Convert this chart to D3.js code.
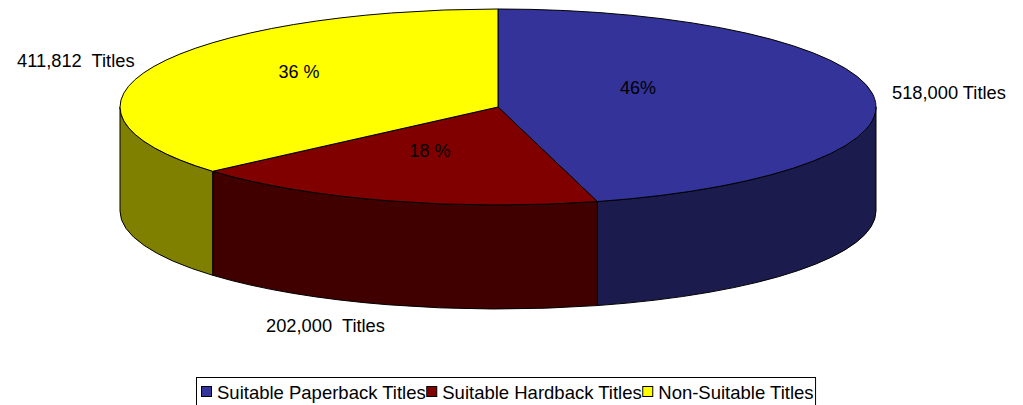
<!DOCTYPE html>
<html>
<head>
<meta charset="utf-8">
<script src="https://cdn.jsdelivr.net/npm/d3@7"></script>
<style>
  body { margin: 0; background: #fff; }
  text { font-family: "Liberation Sans", Arial, sans-serif; fill: #000; white-space: pre; }
</style>
</head>
<body>
<div id="chart"></div>
<script>
// data
let categories = ["Suitable Paperback Titles", "Suitable Hardback Titles", "Non-Suitable Titles"];
let titles = [518000, 202000, 411812];
let pctLabels = ["46%", "18 %", "36 %"];
let countLabels = ["518,000 Titles", "202,000  Titles", "411,812  Titles"];
let topColors = ["#333399", "#800000", "#ffff00"];
let sideColors = ["#1b1b4d", "#400000", "#808000"];

// layout
let width = 1023, height = 405;
let cx = 498, cy = 107, rx = 378, ry = 98, depth = 104;
// label offsets relative to the pie centre (as placed in the original)
let pctOffsets = [[140, -13], [-68, 50], [-199, -29]];
let countOffsets = [[394, -8], [-232, 225], [-481, -40]];

let svg = d3.select("#chart")
  .append("svg")
    .attr("width", width)
    .attr("height", height);

let pie = d3.pie().sort(null).value(d => d);
let arcs = pie(titles);

function pt(a, dy) {
  return [cx + rx * Math.sin(a), cy - ry * Math.cos(a) + (dy || 0)];
}

// side walls (front half only)
let sides = svg.append("g");
arcs.forEach((d, i) => {
  let s = Math.max(d.startAngle, Math.PI / 2),
      e = Math.min(d.endAngle, 3 * Math.PI / 2);
  if (s >= e) return;
  let p0 = pt(s), p1 = pt(e), p2 = pt(e, depth), p3 = pt(s, depth);
  let path = "M" + p0 + " A" + rx + "," + ry + " 0 0 1 " + p1 +
    " L" + p2 + " A" + rx + "," + ry + " 0 0 0 " + p3 + " Z";
  sides.append("path")
    .attr("d", path)
    .attr("fill", sideColors[i])
    .attr("stroke", "#000")
    .attr("stroke-width", 1)
    .attr("stroke-linejoin", "round");
});

// top face
let arc = d3.arc().innerRadius(0).outerRadius(rx);
svg.append("g")
    .attr("transform", "translate(" + cx + "," + cy + ") scale(1," + (ry / rx) + ")")
  .selectAll("path")
  .data(arcs)
  .enter()
  .append("path")
    .attr("d", arc)
    .attr("fill", (d, i) => topColors[i])
    .attr("stroke", "#000")
    .attr("stroke-width", 1)
    .attr("vector-effect", "non-scaling-stroke")
    .attr("stroke-linejoin", "round");

// percentage labels
svg.append("g").selectAll("text")
  .data(pctLabels)
  .enter()
  .append("text")
    .attr("x", (d, i) => cx + pctOffsets[i][0])
    .attr("y", (d, i) => cy + pctOffsets[i][1])
    .attr("text-anchor", "middle")
    .style("font-size", "18px")
    .text(d => d);

// count labels
svg.append("g").selectAll("text")
  .data(countLabels)
  .enter()
  .append("text")
    .attr("x", (d, i) => cx + countOffsets[i][0])
    .attr("y", (d, i) => cy + countOffsets[i][1])
    .style("font-size", "18.3px")
    .text(d => d);

// legend
let legend = svg.append("g");
let box = legend.append("rect")
  .attr("x", 196.5)
  .attr("y", 377.5)
  .attr("height", 40)
  .attr("fill", "#fff")
  .attr("stroke", "#000")
  .attr("stroke-width", 1);

let lx = 201.5;
categories.forEach((c, i) => {
  legend.append("rect")
    .attr("x", lx)
    .attr("y", 386.5)
    .attr("width", 10)
    .attr("height", 10)
    .attr("fill", topColors[i])
    .attr("stroke", "#000")
    .attr("stroke-width", 1);
  let t = legend.append("text")
    .attr("x", lx + 15.5)
    .attr("y", 399)
    .style("font-size", "18.5px")
    .text(c);
  lx = lx + 15.5 + t.node().getComputedTextLength() + 1;
});
box.attr("width", lx + 1 - 196.5);
</script>
</body>
</html>
